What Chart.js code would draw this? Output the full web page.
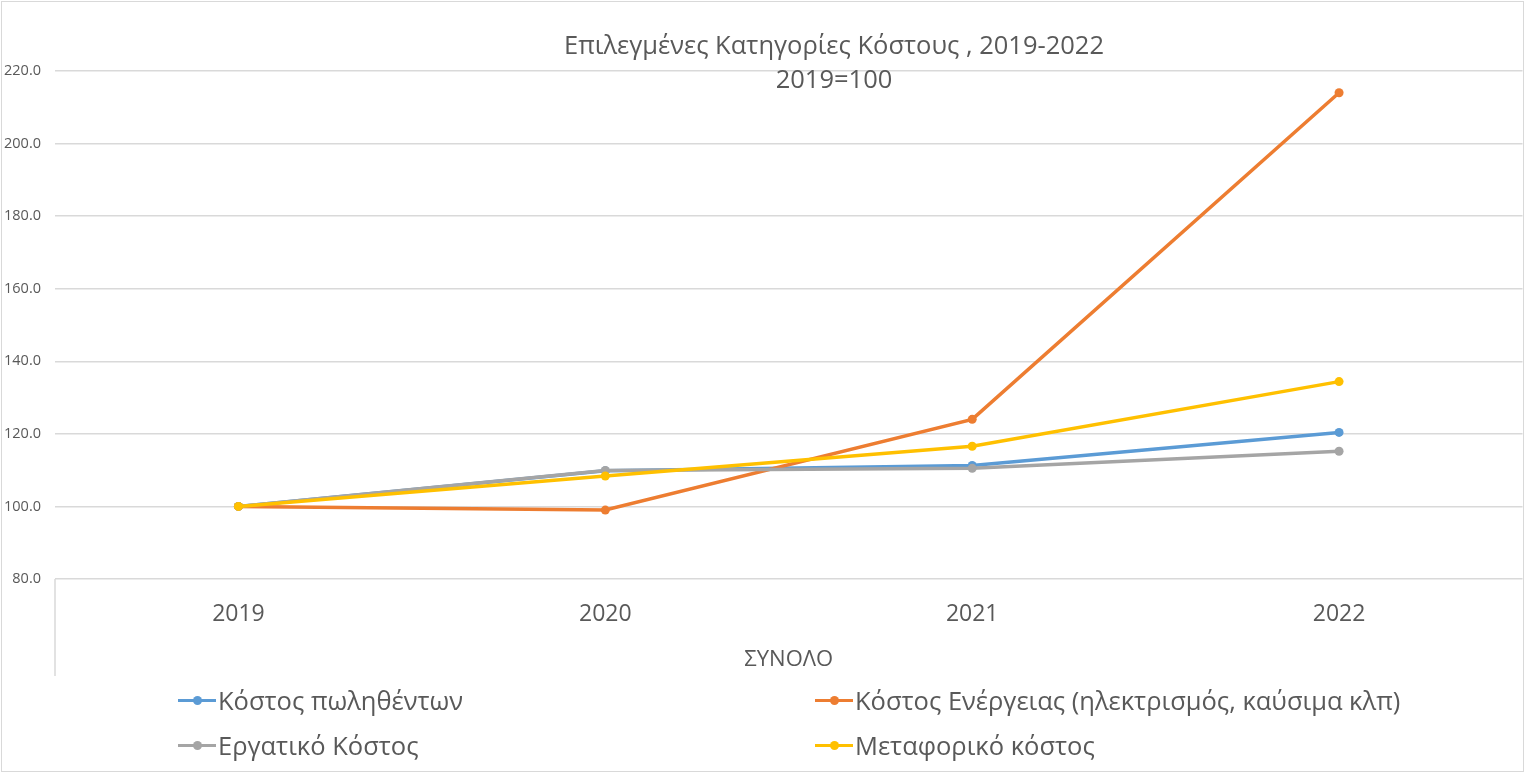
<!DOCTYPE html>
<html>
<head>
<meta charset="utf-8">
<script src="https://cdn.jsdelivr.net/npm/chart.js@4"></script>
<style>
    body { margin: 0; background: #fff; }
    #wrap { position: relative; width: 1527px; height: 776px; overflow: hidden; }
    #frame { position: absolute; left: 1px; top: 1px; width: 1521px; height: 769px; border: 1px solid #d9d9d9; pointer-events: none; }
    #title { position: absolute; left: 434px; width: 800px; top: 27px; text-align: center; font-family: "Open Sans", sans-serif; font-size: 25.5px; line-height: 34px; color: #595959; }
    .leg { position: absolute; font-family: "Open Sans", sans-serif; font-size: 25.5px; color: #595959; white-space: nowrap; line-height: 32px; }
    .mark { display: inline-block; position: relative; width: 38px; height: 32px; vertical-align: top; margin-right: 2px; }
    .mark i { position: absolute; left: 0; top: 15px; width: 38px; height: 3px; }
    .mark b { position: absolute; left: 15px; top: 12px; width: 9px; height: 9px; border-radius: 50%; }
</style>
</head>
<body>
<div id="wrap">
    <canvas id="chart" width="1527" height="776"></canvas>
    <div id="title">Επιλεγμένες Κατηγορίες Κόστους , 2019-2022<br>2019=100</div>
    <div id="legend"></div>
    <div id="frame"></div>
</div>
<script>
const years = ['2019', '2020', '2021', '2022'];
const seriesNames = ['Κόστος πωληθέντων', 'Κόστος Ενέργειας (ηλεκτρισμός, καύσιμα κλπ)', 'Εργατικό Κόστος', 'Μεταφορικό κόστος'];
const kostosPolithenton = [100.0, 109.8, 111.3, 120.4];
const kostosEnergeias = [100.0, 99.0, 124.0, 214.0];
const ergatikoKostos = [100.0, 109.9, 110.5, 115.2];
const metaforikoKostos = [100.0, 108.4, 116.6, 134.4];
const yTicks = [80, 100, 120, 140, 160, 180, 200, 220];
const colors = ['#5b9bd5', '#ed7d31', '#a5a5a5', '#ffc000'];

const values = [kostosPolithenton, kostosEnergeias, ergatikoKostos, metaforikoKostos];

// grammi katw apo ton axona (Excel omadopoiisi)
const groupLine = {
    id: 'groupLine',
    afterDraw(chart) {
        const ctx = chart.ctx;
        const a = chart.chartArea;
        ctx.save();
        ctx.strokeStyle = '#d9d9d9';
        ctx.lineWidth = 1.5;
        ctx.beginPath();
        ctx.moveTo(a.left, a.bottom);
        ctx.lineTo(a.left, a.bottom + 97);
        ctx.stroke();
        ctx.restore();
    }
};

new Chart(document.getElementById('chart'), {
    type: 'line',
    data: {
        labels: years,
        datasets: seriesNames.map((name, i) => ({
            label: name,
            data: values[i],
            borderColor: colors[i],
            backgroundColor: colors[i],
            borderWidth: 3.5,
            pointRadius: 4.5,
            pointBorderWidth: 0,
            tension: 0,
            order: 4 - i
        }))
    },
    options: {
        responsive: false,
        animation: false,
        layout: { padding: { left: 0, right: 4, top: 71, bottom: 97 } },
        plugins: {
            legend: { display: false },
            title: { display: false },
            tooltip: { enabled: false }
        },
        scales: {
            x: {
                offset: true,
                grid: { display: false },
                border: { display: false },
                ticks: {
                    padding: 14,
                    color: '#595959',
                    font: { family: 'Open Sans', size: 23 }
                },
                title: {
                    display: true,
                    text: 'ΣΥΝΟΛΟ',
                    color: '#595959',
                    font: { family: 'Open Sans', size: 22 },
                    padding: { top: 0, bottom: 6 }
                },
                afterFit: scale => { scale.height = 100; }
            },
            y: {
                min: 80,
                max: 220,
                afterBuildTicks: scale => { scale.ticks = yTicks.map(v => ({ value: v })); },
                grid: { color: '#d9d9d9', lineWidth: 1.5, drawTicks: false },
                border: { display: false },
                ticks: {
                    padding: 14,
                    color: '#595959',
                    font: { family: 'Open Sans', size: 14.5 },
                    callback: v => v.toFixed(1)
                },
                afterFit: scale => { scale.width = 55; }
            }
        }
    },
    plugins: [groupLine]
});

// legenda se dyo stiles opws sto Excel
const legendPos = [[178, 684], [815, 684], [178, 729], [815, 729]];
const legend = document.getElementById('legend');
seriesNames.forEach((name, i) => {
    const d = document.createElement('div');
    d.className = 'leg';
    d.style.left = legendPos[i][0] + 'px';
    d.style.top = legendPos[i][1] + 'px';
    d.innerHTML = `<span class="mark"><i style="background:${colors[i]}"></i><b style="background:${colors[i]}"></b></span>${name}`;
    legend.appendChild(d);
});
</script>
</body>
</html>
